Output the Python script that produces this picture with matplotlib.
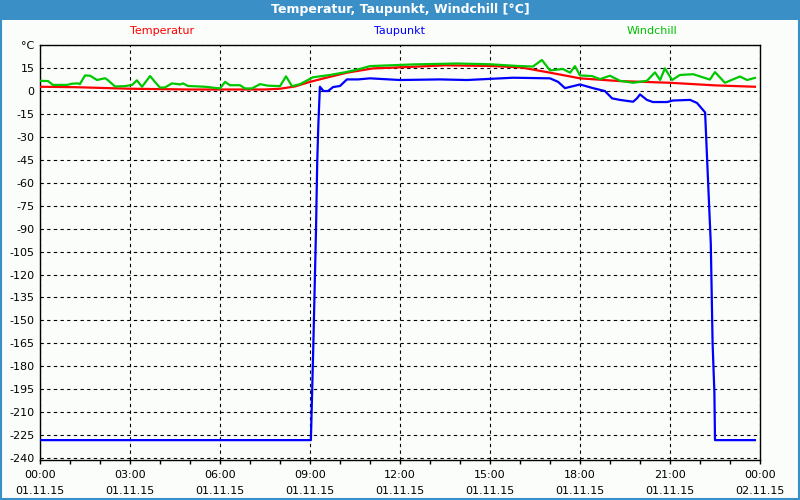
import numpy as np
import matplotlib
matplotlib.use('Agg')
import matplotlib.pyplot as plt
from matplotlib.patches import Rectangle

# hours since 01.11.15 00:00
temp_h = [0.0, 1.2, 3.0, 5.0, 7.5, 8.0, 8.5, 9.0, 9.5, 10.23, 11.1, 12.0, 13.5, 15.0,
          16.0, 16.5, 17.0, 18.0, 19.33, 21.0, 22.5, 23.83]
temp_v = [2.8, 2.5, 1.5, 1.0, 1.0, 1.5, 3.0, 6.0, 8.5, 12.0, 14.8, 15.5, 16.8, 16.4,
          15.5, 13.8, 12.0, 8.3, 6.5, 5.4, 3.7, 2.8]

dew_h = [0.0, 9.03, 9.11, 9.2, 9.24, 9.28, 9.33, 9.45, 9.6, 9.77, 10.0, 10.23, 10.6,
         11.0, 12.0, 13.33, 14.23, 15.77, 17.0, 17.27, 17.5, 18.0, 18.43, 18.83, 19.07,
         19.33, 19.77, 19.9, 20.0, 20.23, 20.43, 20.9, 21.1, 21.67, 21.9, 22.17, 22.24,
         22.36, 22.42, 22.48, 22.5, 23.83]
dew_v = [-228.3, -228.3, -167, -91, -47, -21, 2.8, 0.0, 0.0, 2.6, 3.3, 7.6, 7.6,
         8.3, 7.2, 7.6, 7.2, 8.7, 8.3, 6.0, 1.9, 4.3, 1.9, 0.0, -4.8,
         -5.8, -7.0, -4.8, -2.2, -5.8, -7.2, -7.2, -6.2, -5.8, -7.8, -14, -46,
         -100, -165, -197.5, -228.3, -228.3]

wind_h = [0.0, 0.27, 0.43, 0.9, 1.07, 1.27, 1.33, 1.5, 1.67, 1.9, 2.17, 2.27, 2.5, 2.83,
          3.07, 3.23, 3.4, 3.67, 3.83, 4.0, 4.17, 4.4, 4.67, 4.77, 4.93, 5.5, 6.0, 6.17,
          6.33, 6.67, 6.83, 7.07, 7.33, 7.6, 8.0, 8.2, 8.4, 8.67, 9.1, 9.67, 10.23, 10.67,
          11.0, 12.43, 13.9, 15.0, 15.9, 16.43, 16.73, 17.0, 17.43, 17.67, 17.83, 18.0,
          18.4, 18.67, 19.0, 19.33, 19.77, 20.23, 20.5, 20.67, 20.83, 21.07, 21.33,
          21.77, 22.33, 22.5, 22.83, 23.33, 23.57, 23.83]
wind_v = [6.7, 6.5, 4.0, 4.0, 4.8, 5.0, 4.5, 10.2, 10.0, 7.2, 8.4, 7.0, 3.0, 3.2,
          4.0, 7.0, 2.8, 9.8, 6.0, 2.2, 2.4, 5.0, 4.3, 5.0, 3.3, 2.8, 1.7, 6.0,
          3.8, 3.8, 1.7, 1.7, 4.5, 3.5, 3.2, 9.6, 3.2, 4.5, 9.0, 10.5, 12.5, 14.5,
          16.3, 17.4, 18.0, 17.5, 16.4, 16.0, 20.3, 13.5, 14.4, 12.0, 16.3, 10.2,
          9.8, 7.8, 10.0, 6.7, 5.4, 6.7, 12.2, 7.2, 14.8, 7.2, 10.5,
          11.0, 7.5, 12.4, 5.4, 9.5, 7.2, 8.6]

x_ticks = [0, 3, 6, 9, 12, 15, 18, 21, 24]
x_labels = ['00:00\n01.11.15', '03:00\n01.11.15', '06:00\n01.11.15', '09:00\n01.11.15',
            '12:00\n01.11.15', '15:00\n01.11.15', '18:00\n01.11.15', '21:00\n01.11.15',
            '00:00\n02.11.15']
y_ticks = list(range(-240, 31, 15))
y_labels = [str(v) for v in y_ticks[:-1]] + ['°C']

bar_blue = '#3b8fc7'
bg = '#fbfdfb'

fig = plt.figure(figsize=(8, 5), dpi=100, facecolor=bg)
fig.patches.append(Rectangle((0, 0.96), 1, 0.04, transform=fig.transFigure,
                             facecolor=bar_blue, edgecolor='none', zorder=0))
fig.patches.append(Rectangle((0.001, 0.002), 0.998, 0.997, transform=fig.transFigure,
                             facecolor='none', edgecolor=bar_blue, lw=1.5, zorder=0))
fig.text(0.5, 0.981, 'Temperatur, Taupunkt, Windchill [°C]', ha='center', va='center',
         color='white', fontsize=9, fontweight='bold')
fig.text(0.203, 0.938, 'Temperatur', ha='center', va='center', color='red', fontsize=8)
fig.text(0.5, 0.938, 'Taupunkt', ha='center', va='center', color='blue', fontsize=8)
fig.text(0.815, 0.938, 'Windchill', ha='center', va='center', color='#00c000', fontsize=8)

ax = fig.add_axes([0.05, 0.08, 0.90, 0.8306])
ax.set_facecolor(bg)
ax.plot(temp_h, temp_v, color='#ff0000', lw=1.6, zorder=3)
ax.plot(dew_h, dew_v, color='#0000ff', lw=1.6, zorder=4)
ax.plot(wind_h, wind_v, color='#00c800', lw=1.6, zorder=5)

ax.set_xlim(0, 24)
ax.set_ylim(-241.3, 30.3)
ax.set_xticks(x_ticks)
ax.set_xticklabels(x_labels, fontsize=8, linespacing=1.8)
ax.set_xticks(np.arange(0, 25, 1), minor=True)
ax.set_yticks(y_ticks)
ax.set_yticklabels(y_labels, fontsize=8)
ax.tick_params(axis='x', which='both', direction='out', length=3, width=1, pad=4)
ax.tick_params(axis='y', length=0, pad=4)
ax.grid(True, color='black', linestyle=(0, (3, 3)), lw=0.8)
for s in ax.spines.values():
    s.set_color('black')
    s.set_linewidth(1)

plt.savefig('out.png', dpi=100, facecolor=bg)
